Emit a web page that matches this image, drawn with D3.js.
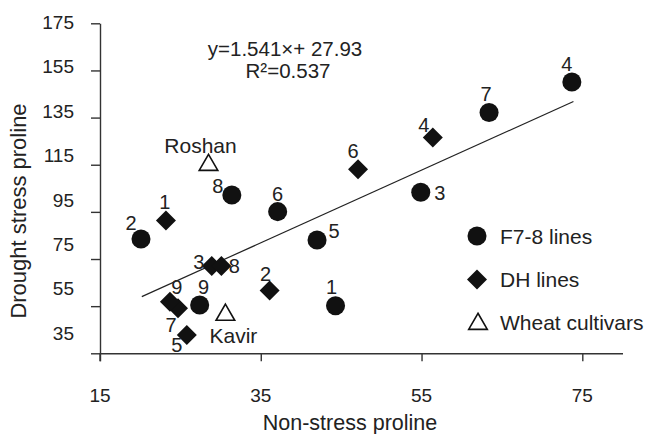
<!DOCTYPE html>
<html>
<head>
<meta charset="utf-8">
<title>Proline scatter</title>
<style>
  body { margin: 0; background: #fff; }
  svg text { font-family: "Liberation Sans", Arial, sans-serif; fill: #222; }
  .axis path, .axis line { stroke: #333; stroke-width: 1.4; }
</style>
</head>
<body>
<div id="chart"></div>
<script src="https://cdn.jsdelivr.net/npm/d3@7"></script>
<script>

// F7-8 lines
var f78Id = ["1", "2", "3", "4", "5", "6", "7", "8", "9"];
var f78X = [44.3, 20.1, 54.9, 73.7, 42.0, 37.1, 63.4, 31.4, 27.4];
var f78Y = [55.2, 83.5, 103.3, 150.1, 83.1, 95.1, 137.2, 102.2, 55.5];

// DH lines
var dhId = ["1", "2", "3", "4", "5", "6", "7", "8", "9"];
var dhX = [23.2, 36.1, 28.9, 56.4, 25.8, 47.1, 24.7, 30.1, 23.7];
var dhY = [91.3, 61.6, 72.0, 126.5, 42.8, 113.1, 54.1, 72.0, 56.9];

// wheat cultivars
var cultName = ["Roshan", "Kavir"];
var cultX = [28.5, 30.6];
var cultY = [115.3, 51.7];

var xTicks = [15, 35, 55, 75];
var yTicks = [35, 55, 75, 95, 115, 135, 155, 175];

// regression y = 1.541x + 27.93, drawn over this x range
var slope = 1.541, intercept = 27.93;
var fitRange = [20.2, 73.9];

// where each point label sits, relative to its marker (px)
var f78Lab = [[-4,-19],[-10,-16],[19,0],[-5,-18],[17,-9],[0,-18],[-3,-19],[-14,-9],[4,-18]];
var dhLab = [[-1,-19],[-4,-17],[-13,-4],[-9,-13],[-10,10],[-5,-18],[-7,17],[13,0],[7,-15]];
var cultLab = [[-8,-19],[8,22]];

var width = 647, height = 434;

var svg = d3.select("#chart").append("svg")
    .attr("width", width)
    .attr("height", height);

var x = d3.scaleLinear().domain([15, 80]).range([100, 622.5]);
var y = d3.scaleLinear().domain([35, 175]).range([353.3, 23.3]);
// the printed tick labels creep upward relative to the ticks
var yLab = d3.scaleLinear().domain([35, 175]).range([333, 22]);

// axes
svg.append("g")
    .attr("class", "axis")
    .attr("transform", "translate(0," + y(35) + ")")
    .call(d3.axisBottom(x).tickValues(xTicks).tickSize(8).tickSizeOuter(0).tickFormat(""));

svg.append("g")
    .attr("class", "axis")
    .attr("transform", "translate(" + x(15) + ",0)")
    .call(d3.axisLeft(y).tickValues(yTicks).tickSize(9).tickSizeOuter(0).tickFormat(""));

// y axis extends down through the x-axis tick
svg.append("line")
    .attr("x1", x(15)).attr("x2", x(15))
    .attr("y1", y(35)).attr("y2", y(35) + 8)
    .attr("stroke", "#333").attr("stroke-width", 1.4);

svg.selectAll(".xlab")
    .data(xTicks)
    .enter().append("text")
    .attr("x", function(d) { return x(d); })
    .attr("y", 402)
    .attr("text-anchor", "middle")
    .style("font-size", "19px")
    .text(function(d) { return d; });

svg.selectAll(".ylab")
    .data(yTicks)
    .enter().append("text")
    .attr("x", 74)
    .attr("y", function(d) { return yLab(d); })
    .attr("dy", "0.36em")
    .attr("text-anchor", "end")
    .style("font-size", "19px")
    .text(function(d) { return d; });

svg.append("text")
    .attr("x", 350)
    .attr("y", 430)
    .attr("text-anchor", "middle")
    .style("font-size", "21.5px")
    .text("Non-stress proline");

svg.append("text")
    .attr("transform", "translate(26,211) rotate(-90)")
    .attr("text-anchor", "middle")
    .style("font-size", "22px")
    .text("Drought stress proline");

// regression line
svg.append("line")
    .attr("x1", x(fitRange[0]))
    .attr("y1", y(slope * fitRange[0] + intercept))
    .attr("x2", x(fitRange[1]))
    .attr("y2", y(slope * fitRange[1] + intercept))
    .attr("stroke", "#222")
    .attr("stroke-width", 1.2);

svg.append("text")
    .attr("x", 285)
    .attr("y", 56)
    .attr("text-anchor", "middle")
    .style("font-size", "20.5px")
    .text("y=1.541\u00d7+ 27.93");

svg.append("text")
    .attr("x", 288)
    .attr("y", 78)
    .attr("text-anchor", "middle")
    .style("font-size", "20.5px")
    .text("R\u00b2=0.537");

var circleSym = d3.symbol().type(d3.symbolCircle).size(285);
var diamondSym = d3.symbol().type(d3.symbolSquare).size(200);
var triSym = d3.symbol().type(d3.symbolTriangle).size(150);

function drawGroup(ids, xs, ys, offs, shape) {
    var g = svg.append("g");
    ids.forEach(function(id, i) {
        var px = x(xs[i]), py = y(ys[i]);
        var m = g.append("path").attr("d", shape === "tri" ? triSym() : shape === "dia" ? diamondSym() : circleSym());
        if (shape === "tri") {
            m.attr("transform", "translate(" + px + "," + (py + 1) + ")")
             .attr("fill", "#fff").attr("stroke", "#111").attr("stroke-width", 1.6);
        } else {
            m.attr("transform", "translate(" + px + "," + py + ")" + (shape === "dia" ? " rotate(45)" : ""))
             .attr("fill", "#111");
        }
        g.append("text")
            .attr("x", px + offs[i][0])
            .attr("y", py + offs[i][1])
            .attr("dy", "0.36em")
            .attr("text-anchor", "middle")
            .style("font-size", shape === "tri" ? "21px" : "20px")
            .text(id);
    });
}

drawGroup(f78Id, f78X, f78Y, f78Lab, "circle");
drawGroup(dhId, dhX, dhY, dhLab, "dia");
drawGroup(cultName, cultX, cultY, cultLab, "tri");

// legend
var legend = [["F7-8 lines", circleSym, 236], ["DH lines", diamondSym, 279.5], ["Wheat cultivars", triSym, 322.5]];
legend.forEach(function(d, i) {
    var p = svg.append("path").attr("d", d[1]());
    if (i === 0) p.attr("transform", "translate(477,236)").attr("fill", "#111");
    if (i === 1) p.attr("transform", "translate(477,279.5) rotate(45)").attr("fill", "#111");
    if (i === 2) p.attr("transform", "translate(478,324)").attr("fill", "#fff").attr("stroke", "#111").attr("stroke-width", 1.6);
    svg.append("text")
        .attr("x", 500)
        .attr("y", d[2])
        .attr("dy", "0.36em")
        .style("font-size", "21px")
        .text(d[0]);
});

</script>
</body>
</html>
